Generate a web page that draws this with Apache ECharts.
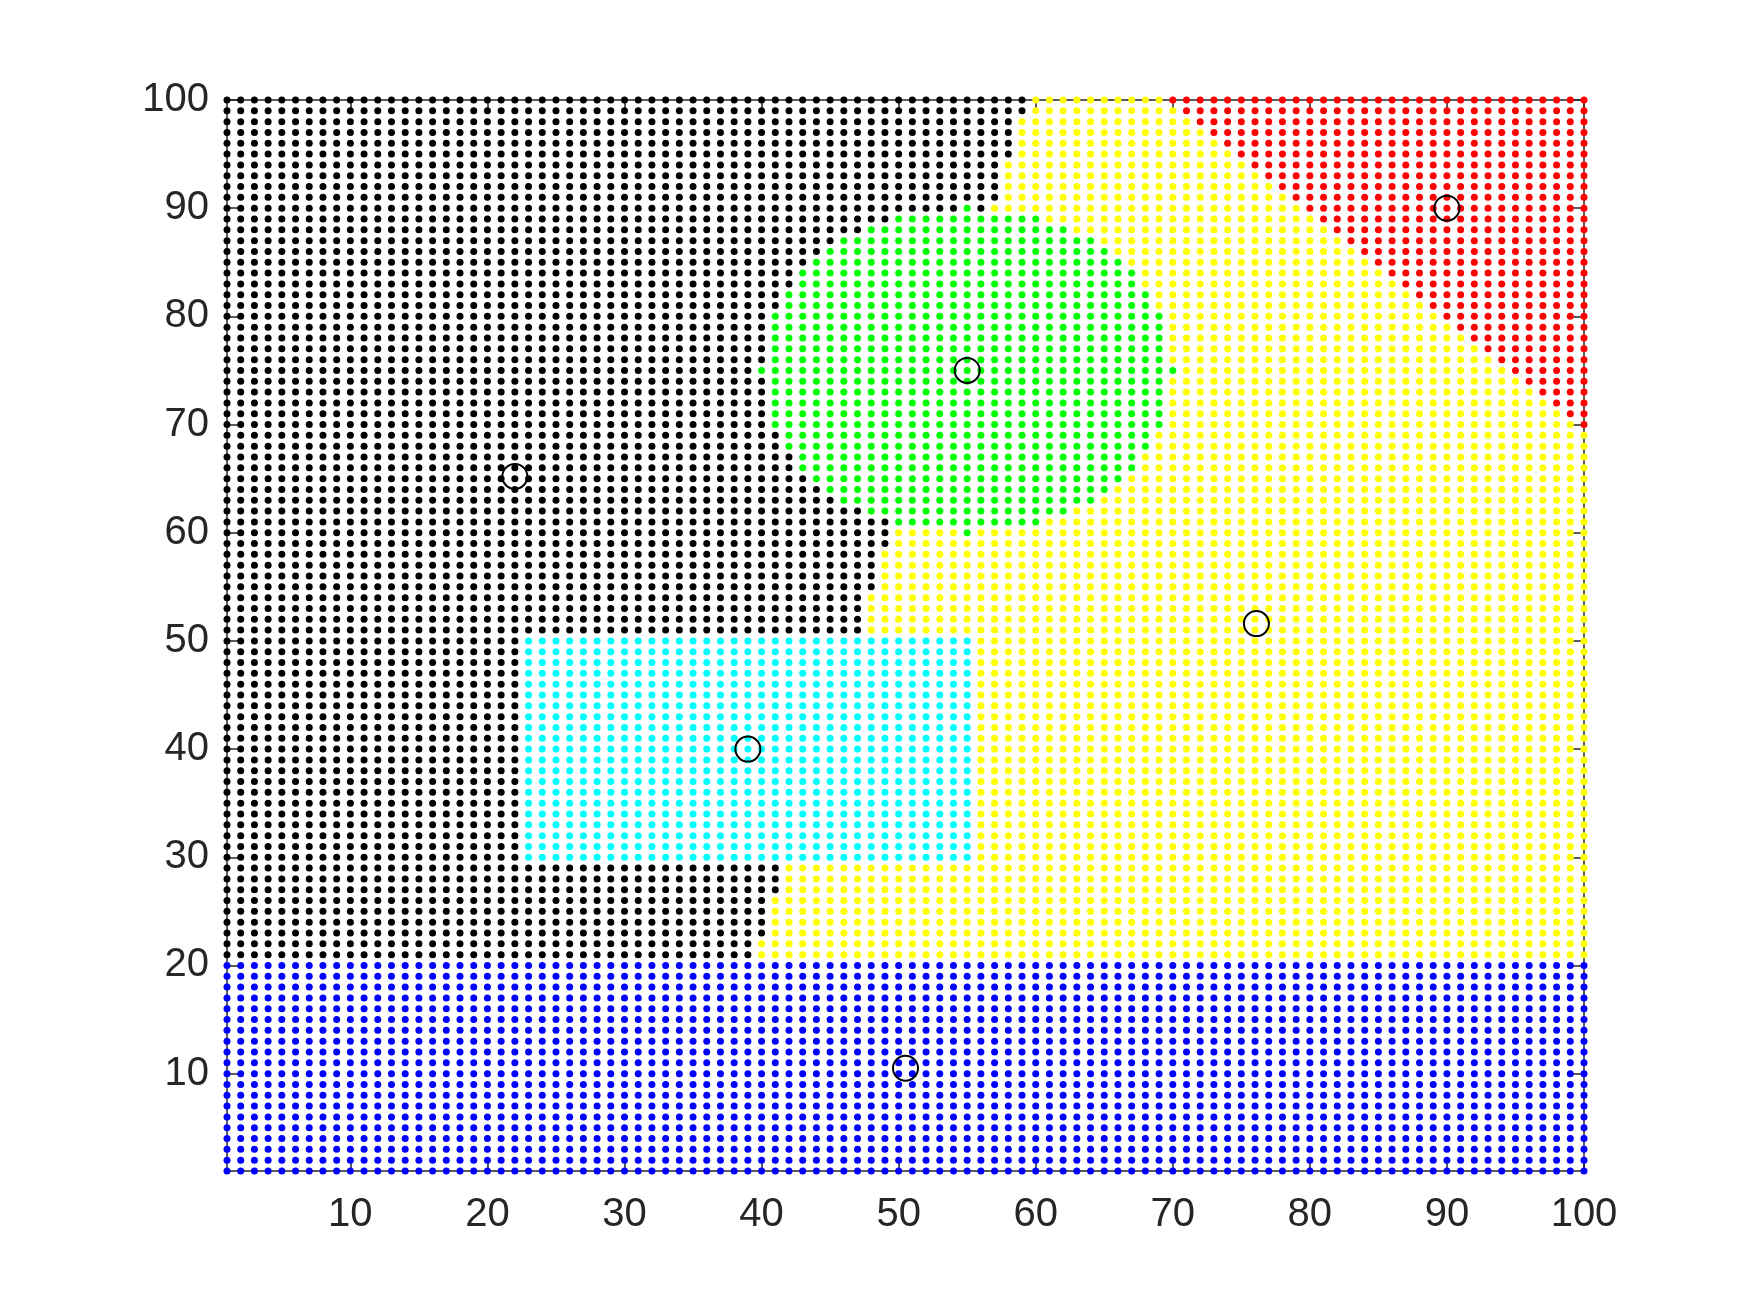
<!DOCTYPE html>
<html>
<head>
<meta charset="utf-8">
<script src="https://cdn.jsdelivr.net/npm/echarts@6/dist/echarts.min.js"></script>
<style>
  html, body { margin: 0; padding: 0; background: #ffffff; }
  #chart { width: 1750px; height: 1313px; }
</style>
</head>
<body>
<div id="chart"></div>
<script>
// ---- data ----
// grid coordinates (both axes): integers 1..100
const gridValues = [1,2,3,4,5,6,7,8,9,10,11,12,13,14,15,16,17,18,19,20,
  21,22,23,24,25,26,27,28,29,30,31,32,33,34,35,36,37,38,39,40,
  41,42,43,44,45,46,47,48,49,50,51,52,53,54,55,56,57,58,59,60,
  61,62,63,64,65,66,67,68,69,70,71,72,73,74,75,76,77,78,79,80,
  81,82,83,84,85,86,87,88,89,90,91,92,93,94,95,96,97,98,99,100];

// class regions
const blueMaxY = 20;                       // blue band: y <= 20
const cyanBox = [23, 55, 30, 50];          // xmin, xmax, ymin, ymax
const greenDisc = [55, 75, 15];            // cx, cy, radius
const redMinSum = 170;                     // red: x + y >= 170
const blackEdgeY = [22.5, 98.5];           // black / yellow dividing line: y values
const blackEdgeX = [40, 59];               //   and matching x values (black to the left)

// cluster centres (open circles)
const centreX = [22, 39, 55, 76.1, 90, 50.5];
const centreY = [65.2, 40, 75, 51.6, 90, 10.5];

// tick labels
const xTicks = [10, 20, 30, 40, 50, 60, 70, 80, 90, 100];
const yTicks = [10, 20, 30, 40, 50, 60, 70, 80, 90, 100];

const classNames = ['black', 'yellow', 'red', 'green', 'cyan', 'blue'];
const classColors = ['#000000', '#ffff00', '#ff0000', '#00ff00', '#00ffff', '#0000ff'];

// ---- classify each grid point ----
function classify(x, y) {
  if (y <= blueMaxY) return 'blue';
  if (x >= cyanBox[0] && x <= cyanBox[1] && y >= cyanBox[2] && y <= cyanBox[3]) return 'cyan';
  const dx = x - greenDisc[0], dy = y - greenDisc[1];
  if (dx * dx + dy * dy <= greenDisc[2] * greenDisc[2]) return 'green';
  if (x + y >= redMinSum) return 'red';
  const t = (y - blackEdgeY[0]) / (blackEdgeY[1] - blackEdgeY[0]);
  const edgeX = blackEdgeX[0] + t * (blackEdgeX[1] - blackEdgeX[0]);
  return x < edgeX ? 'black' : 'yellow';
}

const groups = {};
classNames.forEach(n => groups[n] = []);
gridValues.forEach(x => {
  gridValues.forEach(y => {
    groups[classify(x, y)].push([x, y]);
  });
});

const FONT = '"Liberation Sans", Arial, Helvetica, sans-serif';
const axisColor = '#262626';

const series = classNames.map((n, i) => ({
  type: 'scatter',
  name: n,
  data: groups[n],
  symbol: 'circle',
  symbolSize: 7,
  itemStyle: { color: classColors[i], opacity: 1 },
  large: false,
  progressive: 0,
  silent: true,
  z: 2
}));

series.push({
  type: 'scatter',
  name: 'centres',
  data: centreX.map((x, i) => [x, centreY[i]]),
  symbol: 'circle',
  symbolSize: 25,
  itemStyle: { color: 'rgba(0,0,0,0)', borderColor: '#000000', borderWidth: 2, opacity: 1 },
  silent: true,
  z: 5
});

const chart = echarts.init(document.getElementById('chart'), null, { renderer: 'canvas' });
chart.setOption({
  animation: false,
  backgroundColor: '#ffffff',
  grid: { left: 227, right: 166, top: 100, bottom: 142, containLabel: false },
  xAxis: [
    {
      type: 'value', min: 1, max: 100, position: 'bottom',
      axisLine: { show: true, onZero: false, lineStyle: { color: axisColor, width: 1.5 } },
      axisTick: { show: true, inside: true, length: 13, customValues: xTicks, lineStyle: { color: axisColor, width: 1.5 } },
      axisLabel: { show: true, customValues: xTicks, margin: 24, color: axisColor, fontSize: 40, fontFamily: FONT },
      splitLine: { show: false }
    },
    {
      type: 'value', min: 1, max: 100, position: 'top',
      axisLine: { show: true, onZero: false, lineStyle: { color: axisColor, width: 1.5 } },
      axisTick: { show: true, inside: true, length: 13, customValues: xTicks, lineStyle: { color: axisColor, width: 1.5 } },
      axisLabel: { show: false },
      splitLine: { show: false }
    }
  ],
  yAxis: [
    {
      type: 'value', min: 1, max: 100, position: 'left',
      axisLine: { show: true, onZero: false, lineStyle: { color: axisColor, width: 1.5 } },
      axisTick: { show: true, inside: true, length: 13, customValues: yTicks, lineStyle: { color: axisColor, width: 1.5 } },
      axisLabel: { show: true, customValues: yTicks, margin: 18, color: axisColor, fontSize: 40, fontFamily: FONT },
      splitLine: { show: false }
    },
    {
      type: 'value', min: 1, max: 100, position: 'right',
      axisLine: { show: true, onZero: false, lineStyle: { color: axisColor, width: 1.5 } },
      axisTick: { show: true, inside: true, length: 13, customValues: yTicks, lineStyle: { color: axisColor, width: 1.5 } },
      axisLabel: { show: false },
      splitLine: { show: false }
    }
  ],
  series: series
});
</script>
</body>
</html>
